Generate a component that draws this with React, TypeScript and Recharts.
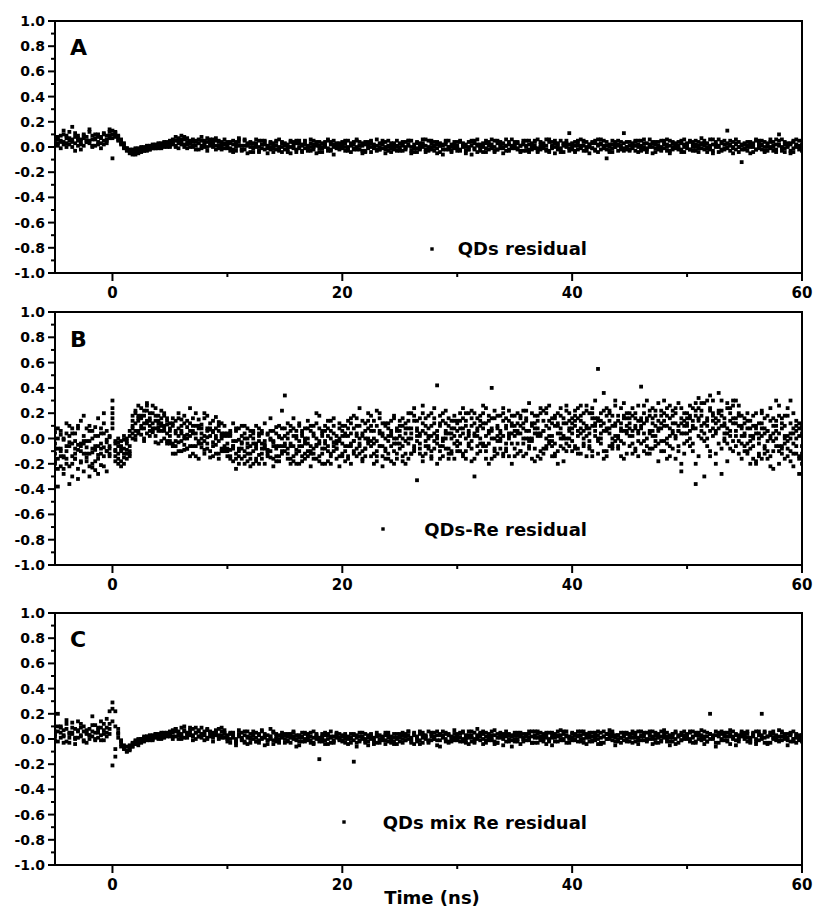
import React from "react";
import { ScatterChart, Scatter, XAxis, YAxis, ReferenceArea } from "recharts";

// time channels (ns), one per 0.25 ns
const timeNs = [
  -5, -4.75, -4.5, -4.25, -4, -3.75, -3.5, -3.25, -3, -2.75, -2.5, -2.25, -2, -1.75, -1.5, -1.25, -1, -0.75, -0.5, -0.25,
  0, 0.25, 0.5, 0.75, 1, 1.25, 1.5, 1.75, 2, 2.25, 2.5, 2.75, 3, 3.25, 3.5, 3.75, 4, 4.25, 4.5, 4.75,
  5, 5.25, 5.5, 5.75, 6, 6.25, 6.5, 6.75, 7, 7.25, 7.5, 7.75, 8, 8.25, 8.5, 8.75, 9, 9.25, 9.5, 9.75,
  10, 10.25, 10.5, 10.75, 11, 11.25, 11.5, 11.75, 12, 12.25, 12.5, 12.75, 13, 13.25, 13.5, 13.75, 14, 14.25, 14.5, 14.75,
  15, 15.25, 15.5, 15.75, 16, 16.25, 16.5, 16.75, 17, 17.25, 17.5, 17.75, 18, 18.25, 18.5, 18.75, 19, 19.25, 19.5, 19.75,
  20, 20.25, 20.5, 20.75, 21, 21.25, 21.5, 21.75, 22, 22.25, 22.5, 22.75, 23, 23.25, 23.5, 23.75, 24, 24.25, 24.5, 24.75,
  25, 25.25, 25.5, 25.75, 26, 26.25, 26.5, 26.75, 27, 27.25, 27.5, 27.75, 28, 28.25, 28.5, 28.75, 29, 29.25, 29.5, 29.75,
  30, 30.25, 30.5, 30.75, 31, 31.25, 31.5, 31.75, 32, 32.25, 32.5, 32.75, 33, 33.25, 33.5, 33.75, 34, 34.25, 34.5, 34.75,
  35, 35.25, 35.5, 35.75, 36, 36.25, 36.5, 36.75, 37, 37.25, 37.5, 37.75, 38, 38.25, 38.5, 38.75, 39, 39.25, 39.5, 39.75,
  40, 40.25, 40.5, 40.75, 41, 41.25, 41.5, 41.75, 42, 42.25, 42.5, 42.75, 43, 43.25, 43.5, 43.75, 44, 44.25, 44.5, 44.75,
  45, 45.25, 45.5, 45.75, 46, 46.25, 46.5, 46.75, 47, 47.25, 47.5, 47.75, 48, 48.25, 48.5, 48.75, 49, 49.25, 49.5, 49.75,
  50, 50.25, 50.5, 50.75, 51, 51.25, 51.5, 51.75, 52, 52.25, 52.5, 52.75, 53, 53.25, 53.5, 53.75, 54, 54.25, 54.5, 54.75,
  55, 55.25, 55.5, 55.75, 56, 56.25, 56.5, 56.75, 57, 57.25, 57.5, 57.75, 58, 58.25, 58.5, 58.75, 59, 59.25, 59.5, 59.75,
  60,
];

// QDs residuals, in units of 0.01, four sweeps
const qdsA = [
  6, 3, 9, 2, 7, 12, 4, 8, 1, 6, 10, 5, 3, 9, 7, 2, 8, 11, 6, 9,
  13, 11, 6, 4, 2, -3, -5, -3, -4, -1, -4, 0, -3, 1, -1, 2, 0, 3, 1, 4,
  3, 6, 1, 7, 4, 8, 2, 5, 0, 4, 6, -1, 3, 7, 1, 4, -2, 5, 2, 6,
  2, -3, 5, 0, 4, -2, 6, 1, -4, 3, 0, 5, -1, 2, -5, 4, 1, -2, 6, 0,
  1, -2, 4, 0, -4, 3, 1, 5, -2, 0, 2, -5, 4, -1, 1, 6, -3, 2, 0, -2,
  -1, 3, 0, -4, 2, 5, -2, 1, -3, 4, 0, -1, 6, -2, 2, -5, 1, 3, -2, 0,
  0, -3, 4, 1, -5, 2, -1, 3, 0, -4, 5, -2, 1, -1, 3, -6, 2, 0, -3, 4,
  1, -2, 3, -5, 0, 4, -1, 2, -3, 1, 5, -2, 0, -4, 3, 1, -1, 6, -3, 0,
  2, -1, -4, 3, 0, 5, -2, 1, -3, 4, 0, -2, 6, 1, -5, 2, -1, 3, 0, 11,
  0, 4, -2, 6, 1, -3, 2, -1, 5, -4, 3, 0, -9, 2, -1, 4, -3, 1, 11, 0,
  -2, 3, 1, -4, 5, 0, -1, 2, -5, 4, 1, -2, 3, 6, -3, 0, 2, -1, 5, -4,
  3, -2, 0, 5, -4, 2, 1, -1, 6, -3, 2, 0, 4, -2, 13, 1, -5, 3, 0, -12,
  2, -3, 4, 0, -2, 5, 1, -4, 3, -1, 0, 6, 10, -3, 2, 1, -5, 4, 0, -2,
  1,
];
const qdsB = [
  2, 8, 4, 13, 0, 5, 16, 3, 9, -2, 7, 4, 12, 1, 6, 10, -1, 5, 3, 12,
  -9, 8, 9, 3, -1, -1, -3, -6, -2, -5, -1, -3, 1, -2, 2, -1, 3, -1, 4, 0,
  0, 3, 5, -1, 9, 2, 4, 0, 6, -2, 3, 1, 5, -3, 4, 0, 7, 1, -2, 3,
  -1, 4, -4, 2, 7, -2, 1, -5, 3, 0, 6, -3, 2, 4, -1, 0, -4, 5, -2, 3,
  3, 0, -5, 2, 5, -1, -3, 2, 0, 6, -2, 1, -4, 3, 0, -1, 4, -6, 2, 1,
  2, -3, 5, 1, -2, 0, 4, -5, 2, -1, 3, 1, -3, 0, 5, -2, 0, -4, 3, 1,
  -2, 2, -1, 5, 0, -4, 3, -2, 6, 1, -3, 0, 4, -5, 1, 2, -2, 5, 0, -1,
  -3, 4, 0, 2, -2, -6, 5, 1, -1, 3, -4, 2, 6, 0, -2, 4, -5, 1, 2, -1,
  -1, 3, 1, -3, 5, -2, 0, 4, -4, 2, -1, 6, -3, 0, 3, -2, 5, -4, 1, 2,
  3, -3, 1, -1, 4, 0, -5, 3, -2, 2, 6, -1, 1, -4, 5, 0, 2, -2, -3, 4,
  1, -1, 4, 2, -3, 6, -2, 0, 3, -4, 0, 5, -1, 2, -5, 3, 1, 4, -2, 0,
  -1, 4, 2, -3, 1, 7, -2, 3, 0, -5, 4, 1, -3, 5, 0, 2, -1, 6, -4, 2,
  -2, 1, -5, 3, 6, -1, 2, 0, -3, 4, 1, -2, 5, 0, -4, 3, 2, -1, 6, 1,
  -3,
];
const qdsC = [
  8, 1, 5, 10, 3, 7, 0, 11, 5, 2, 9, 4, 14, 6, 1, 8, 3, 10, 5, 7,
  10, 12, 8, 2, 0, -1, -2, -5, -1, -4, 0, -3, 0, -2, 1, -1, 2, 0, 3, 1,
  5, 2, 8, 3, 6, 0, 7, 4, 1, 5, 3, 8, 0, 4, 6, 2, 5, -1, 4, 2,
  0, 3, -2, 4, 1, -3, 5, 2, 0, -1, 3, -4, 2, 5, 0, -2, 3, 1, -3, 4,
  -2, 2, 5, -1, 3, 0, -4, 4, 1, -3, 5, 2, -1, 0, 4, -3, 2, 5, -1, 3,
  4, 0, -2, 3, -1, 6, 1, -3, 4, 0, -4, 2, 1, -2, 3, 0, 5, -1, 2, -3,
  3, 1, -2, 5, -3, 0, 4, -1, 2, 6, -2, 3, 0, 4, -4, 1, 5, -2, 2, 0,
  -1, 5, 2, -3, 4, 1, -2, 6, 0, -4, 3, 1, -1, 5, -2, 2, 0, -3, 4, 1,
  4, -2, 1, 5, -3, 2, 0, -1, 6, -2, 3, 1, -4, 4, 0, 3, -2, 1, 5, -3,
  -2, 1, 5, 0, -3, 4, 2, -1, 3, 6, -2, 1, 4, -3, 2, 0, 5, -1, 3, -2,
  4, 0, -3, 5, 1, -2, 3, 6, 0, -1, 4, -3, 2, 0, 5, -2, 3, 1, -4, 2,
  0, 5, -3, 2, 4, -1, 3, 0, -2, 6, 1, -4, 3, 2, -1, 5, 0, -2, 4, 1,
  3, 0, 2, -4, 5, 1, -2, 4, 0, 6, -3, 2, 1, -1, 4, 0, 3, -4, 2, 5,
  2,
];
const qdsD = [
  3, 6, -1, 4, 9, 2, 6, -3, 7, 4, 1, 8, 5, 0, 10, 4, 7, 2, 9, 14,
  7, 9, 5, 6, 3, -2, -3, -2, -6, -2, -3, -1, -2, 0, -1, 1, -1, 2, 0, 3,
  1, 4, 0, 5, 2, 6, -1, 3, 4, 1, -2, 5, 2, 0, 3, 6, 1, 4, 0, -1,
  4, -1, 2, -3, 6, 1, -2, 3, 4, -4, 2, 0, 5, -2, 1, 3, -1, 4, 0, -4,
  2, -4, 0, 4, -2, 5, 2, -1, -3, 3, 0, 4, 1, -4, 2, 5, -2, 0, 3, -1,
  0, 5, -3, 2, 4, -2, 1, 3, -4, 2, 5, 0, -2, 3, -1, 4, -3, 1, 0, 5,
  -3, 4, 0, 2, 5, -1, -4, 1, 3, -2, 0, 5, -3, 2, 1, -2, 4, 0, -4, 2,
  4, -3, 1, 0, -2, 5, 3, -4, 2, 0, -1, 4, 2, -3, 5, -1, 3, 1, -2, 6,
  0, 4, -3, 2, 1, -4, 3, 5, -1, 0, 2, -3, 4, -1, 5, 0, -4, 2, 3, -1,
  2, -4, 3, 1, 5, -2, 0, 4, -3, 1, 2, 5, -2, 0, -4, 3, 1, 4, -1, 0,
  -3, 2, 5, 0, -1, 3, -4, 1, 4, 2, -2, 0, 5, -3, 1, 4, -1, -2, 3, 6,
  2, -2, 4, 0, -1, 3, 5, -4, 1, 2, 0, 6, -2, -1, 3, -3, 4, 2, 0, -2,
  -1, 4, 0, 2, -2, 3, 5, -3, 1, 0, 4, -4, 2, 6, -1, 2, -3, 5, 1, 0,
  0,
];

// QDs-Re residuals, six sweeps
const reA = [
  -12, -38, 3, -15, -6, 10, -20, -2, -9, 14, -4, -18, 6, -11, -25, 2, -8, 12, -3, -14,
  30, -4, -12, -2, -15, -9, -6, 4, 12, 26, 8, 18, 4, 14, 20, 2, 9, 16, 6, 11,
  8, -6, 14, 2, -10, 18, 0, 6, -12, 10, -4, 4, 16, -8, 2, -14, 8, -2, 12, -6,
  -10, 4, -18, -2, -8, 10, -14, -4, 6, -20, -6, 2, -12, 12, -9, -1, -16, 4, -6, 8,
  34, -8, 6, -14, 0, 10, -18, -4, 14, -10, 2, -6, 18, -12, -2, 8, -20, 4, -8, 12,
  -4, 10, -14, 4, 18, -8, 0, -18, 12, -2, 6, -12, 22, -6, 2, -16, 8, 14, -10, 0,
  2, -14, 12, -4, 20, -8, 6, 16, -18, 4, -6, 10, -2, 42, -10, 14, 0, -16, 8, -4,
  6, -10, 16, 0, -4, 22, -30, 8, 14, -6, 2, 18, 40, -14, 10, -2, 24, -8, 4, 12,
  -8, 12, 4, 22, -12, 6, -2, 18, 8, -16, 14, 0, 26, -6, 10, -20, 4, 16, -4, 20,
  16, -6, 24, 4, 12, -14, 8, 20, 2, 55, 14, -10, 6, 22, -4, 10, 18, -2, 28, 6,
  12, -4, 20, 6, 41, -10, 14, 4, 24, -6, 8, 18, -2, 10, -14, 22, 2, 28, -20, 14,
  10, 26, -4, 18, 32, 6, -30, 14, 22, 2, 12, 36, -8, 16, 4, 24, -2, 30, 10, -16,
  4, -12, 14, -6, 20, 0, -16, 8, -2, 24, -10, 6, -20, 12, 2, -8, 30, -4, 10, -14,
  10,
];
const reB = [
  5, -8, -22, -1, -16, -36, 8, -12, -5, -19, 18, -7, -2, -23, 9, -13, -4, 20, -10, 1,
  24, -14, -3, -18, -8, 0, -12, 14, 22, 6, 18, 0, 28, 10, 5, 24, 12, -2, 18, 4,
  -4, 12, -2, 20, 6, -9, 3, -14, 10, 0, 15, -7, -2, 8, -15, 5, -5, 13, -10, 2,
  2, -14, -6, -24, 8, -3, -10, 0, -16, 4, -8, -20, 6, -5, -12, 16, -3, -18, 1, -10,
  -6, 4, -16, 16, -9, -2, 6, -12, 0, -22, 10, -5, -14, 2, 6, -10, 14, -3, -16, 0,
  6, -10, 2, -20, 8, 16, -4, 4, -8, 20, -14, 0, 10, -6, -22, 12, -2, 4, 18, -12,
  -8, 16, -2, 8, -12, 24, -33, 2, 12, -6, 18, -14, 4, -20, 10, -2, 22, -8, 0, 14,
  -2, 20, -12, 10, 4, -18, 12, -6, 0, 26, -10, 6, -16, 16, 2, -8, 20, -4, 14, -20,
  10, -4, 18, -14, 6, 28, 0, -8, 14, 2, -12, 20, 8, -2, 16, -10, 24, 0, 12, -6,
  -2, 14, 6, -12, 20, 8, -6, 16, 30, 0, 10, -16, 18, 4, -8, 26, 2, 12, -4, 16,
  2, 18, -8, 26, 10, -2, 16, -12, 6, 22, -4, 12, 30, 0, 16, -8, 20, 6, -26, 10,
  20, 0, 14, -36, 24, 10, 4, 30, -10, 18, 6, 22, -28, 12, 28, 2, 16, -6, 20, 8,
  -10, 8, -2, 18, -18, 4, 12, -8, 6, -22, 16, 0, 26, -6, 10, -14, 4, 20, -12, 2,
  -20,
];
const reC = [
  -20, 8, -10, -28, 12, -3, -14, 4, -24, -6, 2, -15, -30, 0, -9, 16, -21, -7, 6, -12,
  20, -9, -20, -6, -1, -16, 2, 8, -1, 16, 3, 12, 22, 16, 8, -3, 14, 6, 10, -4,
  2, -12, 6, -3, 15, -5, 9, 24, -6, 4, -16, 11, -9, 1, 7, -3, 17, -12, 0, -8,
  -4, -9, 12, -12, -1, -16, 4, -7, -22, 0, 10, -13, -4, -8, 3, -15, -6, 9, -14, 22,
  8, -12, -4, 2, -20, 12, -6, 0, -10, 6, -16, 20, -2, 4, -8, -18, 0, 10, -4, -14,
  -12, 2, 14, -6, -2, -14, 24, -10, 6, -4, 10, -20, -2, 16, 4, -8, -16, 2, -4, 8,
  10, 0, -20, 14, 4, -10, 8, -4, 26, -12, 2, 20, -8, 6, -16, 0, 12, 4, -12, 18,
  14, 2, 8, -16, 20, -2, 4, 16, -10, 8, 24, -4, 6, 0, -12, 18, 2, 10, -14, 4,
  2, 20, -10, 8, 16, -2, 12, -18, 4, 24, 6, -6, 14, 2, -14, 10, 18, -8, 0, 8,
  8, 22, -8, 14, 0, 26, -2, 10, 16, -12, 4, 36, 8, 20, -6, 12, 0, -14, 16, 4,
  20, 6, 10, -14, 16, 4, -6, 22, 12, -2, 28, 8, -10, 18, 2, 12, -16, 6, 24, -4,
  -2, 16, 8, 22, -14, 28, 12, 0, 34, 14, -20, 8, 18, 4, -4, 14, 26, 6, -12, 18,
  12, -4, -20, 2, 8, -14, 22, 4, -10, 14, -2, 30, -6, 8, -16, 18, 0, -12, 6, -28,
  4,
];
const reD = [
  -4, -16, 6, -24, -10, 2, -30, -8, 8, -18, -2, -12, 10, -20, -6, -28, 4, -14, -1, -8,
  12, -18, 0, -10, -20, -4, 6, 18, 2, 14, 24, -2, 12, 20, 6, 14, -4, 22, 8, 16,
  -2, 10, -12, 16, 4, 0, -8, 12, 6, -14, 8, -4, 2, 18, -10, 6, 0, -16, 4, 10,
  -8, 6, -2, -16, -10, 2, -20, 8, -12, -4, -18, 4, -8, -2, -14, 6, -22, -6, 2, -12,
  2, -16, -6, 8, -12, -20, 4, -2, -14, 10, -8, 0, -18, 6, -4, 14, -12, -6, 2, -22,
  10, -6, -16, 12, -2, 4, -12, 14, -8, 0, 18, -4, -14, 6, 12, -10, 2, -18, 16, -4,
  14, -6, 4, -16, 8, 18, -2, -12, 6, 16, -8, 2, 24, -4, 12, -14, 6, 16, -10, 2,
  -10, 14, 4, 20, -6, 10, -16, 2, 18, -4, 12, -20, 8, 22, -2, 6, -12, 16, 0, 10,
  18, 4, -10, 12, 0, -6, 20, 8, -14, 4, 22, -8, 2, 16, -4, 12, 0, -18, 26, 6,
  4, 10, -12, 18, 6, 2, -8, 24, 12, -2, 20, 6, -10, 14, 0, 30, -6, 8, 18, -12,
  -6, 24, 8, -2, 14, 20, -12, 6, 16, 2, -18, 22, 10, -4, 26, 6, 12, -10, 16, 4,
  12, -6, 24, 8, 16, 0, 28, 10, -14, 20, 4, 14, 30, -2, 8, 20, -10, 16, 26, 2,
  -6, 14, 2, -16, 10, -4, 20, -12, 6, 0, -24, 14, 4, -8, 18, -2, -18, 8, -6, 12,
  -6,
];
const reE = [
  -18, 0, -8, -14, 4, -22, -4, -16, 10, -10, -26, -2, -12, 6, -18, -6, 8, -22, -10, 2,
  16, -2, -16, -8, 2, -12, -10, 10, 20, 4, 16, 8, 26, 2, 12, 18, 6, 10, 20, -2,
  12, -4, 4, -10, 10, 2, 14, -6, 4, 20, -2, 8, -12, 6, 12, -6, 2, 10, -8, 4,
  4, -16, -6, 6, -14, -8, 0, -18, 2, -10, -4, 8, -16, -6, 4, -10, -2, -14, 10, -6,
  -10, 0, 10, -18, 2, -6, -14, 8, -4, -12, 4, -16, 8, -8, -20, 2, 6, -10, -2, 8,
  -14, 4, -6, 16, -10, 2, 10, -16, 0, 14, -6, 6, -10, 20, -14, 0, 12, -6, -20, 6,
  -4, 10, -12, 20, 0, -6, 14, 4, -14, 10, 0, -10, 16, 2, -6, 20, -8, 10, 4, -16,
  12, -4, 24, -10, 6, 16, 2, -12, 10, 20, -6, 14, 0, -10, 18, 4, -14, 8, 22, -4,
  -14, 6, 16, 0, 22, -8, 10, 4, 18, -10, 6, 24, -4, 12, -12, 20, 8, 2, -10, 14,
  12, -8, 16, 26, -4, 10, 20, -10, 6, 14, 0, 22, -14, 8, 18, 2, -8, 24, 6, 10,
  16, 2, -10, 14, 8, 26, 0, 18, -8, 10, 14, -2, 20, -16, 8, 4, 24, -6, 12, 20,
  4, 18, 10, -20, 14, 22, -2, 16, 6, 30, -12, 20, 10, 0, 24, -8, 12, 2, 18, -4,
  16, -10, 8, 0, -20, 12, 2, -6, 18, -14, 4, 10, -10, 16, -4, 2, 12, -22, 0, 8,
  -12,
];
const reF = [
  -8, -24, -14, 0, -20, -6, 4, -16, -32, -4, -12, 8, -22, -8, 2, -16, -12, 4, -26, -6,
  8, -10, -6, -22, -12, -2, -14, 0, 6, 18, 10, 22, 14, 6, 26, 8, 18, 12, 0, 14,
  6, 16, -6, 8, -2, 12, -8, 2, 16, -6, 10, 0, 20, -4, 8, 14, -12, 6, 2, -10,
  -14, 2, -8, 8, -20, -4, 10, -12, -6, 6, -16, -2, 4, -20, -10, 0, 6, -8, -18, 0,
  -4, 12, -20, -6, 6, -10, 2, -16, 8, -6, -12, 12, -4, -20, 10, -6, -14, 16, -8, -2,
  2, -18, 8, -4, -12, 10, -6, 2, -14, 8, -2, 14, -18, 4, -6, 10, -12, 6, 0, -16,
  6, -18, 8, 0, -12, 14, 2, -8, 20, -2, 8, -16, 12, 0, 18, -6, 4, -12, 14, 8,
  -6, 8, -14, 14, 2, -8, 20, 6, -4, 12, -16, 4, 16, -8, 8, 0, 14, -10, 2, 18,
  6, -12, 10, -4, 14, 0, -16, 12, 2, 20, -8, 10, -2, -14, 18, 4, -6, 12, 22, 0,
  -10, 18, 2, 8, -6, 22, 4, -14, 10, 16, -4, 12, 24, -6, 10, -2, 14, 6, -16, 20,
  8, -12, 16, 4, -4, 12, 30, -8, 2, 18, 6, -10, 14, 24, -6, 18, 0, 10, 4, -12,
  16, 6, -10, 28, 2, 18, 12, -6, 24, 8, 16, -4, 22, 10, -18, 6, 30, 12, -2, 10,
  2, 20, -8, 10, 4, -12, 8, 16, -16, 2, 10, -6, 18, -12, 0, 24, -10, 4, 14, -16,
  8,
];

// QDs mix Re residuals, four sweeps
const mixA = [
  4, 20, 1, 7, -2, 5, 9, 0, 14, 3, 6, -3, 8, 2, 11, 5, -1, 7, 16, 4,
  29, 22, 4, -4, -8, -9, -6, -4, -1, -3, 0, 1, -1, 3, 0, 4, 1, 3, 2, 5,
  3, 7, 2, 6, 9, 1, 5, 3, 8, 0, 6, 4, -1, 7, 2, 5, 3, 8, 1, 4,
  2, -3, 5, 0, 7, -1, 3, -4, 1, 6, -2, 4, 0, -5, 3, 8, -1, 2, -3, 5,
  0, 4, -3, 2, -6, 1, 5, -2, 3, -1, 6, 0, -16, 2, -4, 4, 1, -3, 5, -1,
  -1, 2, -4, 1, -18, 3, -2, 0, 4, -5, 1, -1, 3, -3, 0, 5, -2, 2, -4, 1,
  1, -3, 4, 0, -2, 5, 2, -4, 3, 0, 6, -1, 2, -5, 4, 1, -2, 3, 0, 7,
  2, -2, 5, 1, -4, 3, 0, 8, -1, 4, -3, 2, 6, -2, 1, 3, -5, 4, 0, 2,
  3, 0, -4, 4, 2, -1, 6, -3, 1, 5, -2, 3, 0, -5, 4, 2, 7, -1, 3, 0,
  1, 4, -2, 3, 0, -4, 5, 2, -1, 6, 1, -3, 4, 0, 2, -5, 3, 1, 5, -2,
  2, -3, 5, 1, -1, 4, 0, 6, -4, 3, 1, -2, 5, 2, -5, 4, 0, 3, -1, 6,
  3, 0, 6, -2, 4, 1, -4, 5, 20, 0, 3, -3, 6, 2, -1, 4, 1, -5, 3, 2,
  0, 4, -3, 2, 6, -1, 20, 1, -4, 5, 0, 3, -2, 6, 2, -1, 4, 0, -3, 2,
  2,
];
const mixB = [
  -1, 6, 10, 2, 15, -3, 4, 8, 1, 12, -2, 5, 3, 18, 0, 7, 9, -1, 5, 22,
  -21, -14, 8, -1, -6, -10, -8, -6, -4, 0, -2, -1, 2, 0, 3, 1, 4, 0, 5, 2,
  6, 0, 8, 4, 2, 10, 3, 7, -1, 5, 2, 9, 4, 1, 6, -2, 5, 0, 3, 7,
  -2, 4, 1, -5, 3, 0, 6, 2, -3, 4, 1, -1, 7, 2, -4, 0, 5, -2, 3, 1,
  3, -2, 1, 6, -1, -5, 2, 0, 4, -3, 1, 3, -2, 0, 5, -4, 2, -1, 3, 0,
  2, -3, 0, 4, -1, -6, 2, 1, -3, 3, 0, -2, 5, -1, 1, -4, 3, 0, -2, 4,
  -2, 3, -1, 6, 1, -4, 0, 4, -3, 2, -1, 5, 0, 3, -6, 2, 4, -2, 1, -1,
  -1, 4, 0, -3, 6, 1, -2, 3, 5, -4, 2, 0, -1, 7, -3, 2, 4, -2, 3, -6,
  0, 5, 2, -2, 3, 6, -3, 1, 4, -1, 2, -4, 5, 1, -2, 3, 0, 6, -3, 2,
  4, -1, 2, 6, -3, 1, 3, -2, 5, 0, -4, 2, 4, 7, -1, 3, 0, -3, 2, 5,
  -2, 4, 1, -4, 6, 2, -1, 3, 0, 5, -3, 2, 7, -2, 1, 4, -4, 2, 5, 0,
  1, 5, -3, 3, 0, 7, 2, -2, 4, 1, -6, 3, 0, 5, -2, 2, 6, -1, 1, 4,
  4, -2, 1, 5, -4, 3, 0, 6, 2, -3, 4, 1, -1, 5, 2, -5, 3, 0, 4, -1,
  -2,
];
const mixC = [
  6, -2, 9, 3, 12, 1, 5, -4, 7, 2, 10, 4, 0, 6, -1, 9, 3, 12, 2, 8,
  14, -8, 1, -6, -7, -6, -9, -3, -4, -1, -3, 2, 0, -1, 2, 3, 0, 5, 1, 3,
  5, 2, 6, 0, 4, 7, 1, 5, 3, 9, 2, 4, 6, 0, 5, 3, 7, 2, 6, 1,
  3, 0, 4, -2, 2, 5, -3, 1, 4, 0, -2, 3, 6, 1, -1, 2, -4, 4, 0, 2,
  -3, 2, 4, 0, 3, -2, 1, 5, -1, 2, -4, 4, 1, -2, 3, 0, -3, 2, 4, 1,
  3, 0, 2, -3, 4, 1, -1, 5, -2, 1, 3, -4, 2, 0, -1, 3, 1, -3, 4, 0,
  4, 0, 2, 6, -3, 3, 1, -1, 5, 2, -2, 4, 0, 6, -1, 3, 5, -3, 2, 4,
  0, 5, -2, 3, 1, 6, -3, 2, 4, 0, 5, -1, 3, -4, 4, 1, 2, 6, -2, 3,
  5, -2, 3, 1, -1, 4, 2, 6, -3, 0, 4, 1, -1, 5, 2, -2, 3, 0, 6, 1,
  -1, 3, 6, 0, 4, 2, -2, 5, 1, 3, -3, 6, 0, 2, 4, 1, -2, 5, 3, 0,
  4, 1, -2, 6, 3, -1, 5, 0, 2, -3, 4, 6, 1, 0, 3, -2, 5, 2, -1, 3,
  0, 6, 2, -3, 5, 3, 0, -2, 4, 1, 6, 2, -1, 3, 5, -4, 2, 4, 0, 6,
  5, 1, -2, 4, 0, 6, 3, -3, 2, 5, 1, -1, 7, 2, 0, 4, -2, 6, 1, 3,
  1,
];
const mixD = [
  2, 10, 5, -3, 8, 4, 13, 1, 6, 9, -1, 7, 3, 11, 5, 1, 14, 4, 9, 12,
  24, 10, 5, -2, -5, -10, -5, -6, -2, -5, 0, -2, 2, 1, -1, 4, 2, 1, 4, 3,
  2, 5, 8, 3, 0, 6, 4, 9, 2, 5, 7, 1, 3, 8, 4, 1, 6, 3, 9, 5,
  0, 5, 2, -3, 4, 1, -2, 6, 0, 3, 5, -3, 1, 4, -1, 2, 6, 0, -2, 3,
  4, -1, 2, 5, 0, 3, -2, 4, 1, 5, -3, 2, 0, 4, -1, 3, 6, -2, 1, 4,
  -2, 4, 1, 0, 3, -3, 5, 2, 0, -2, 4, 1, -3, 3, 2, -1, 5, -2, 1, -4,
  2, 5, -1, 3, 0, 4, -2, 6, 1, 3, -3, 2, 5, -1, 3, 6, 0, 4, -2, 1,
  4, 1, 6, -1, 3, -2, 5, 0, 2, 6, -1, 4, 1, 3, -3, 5, 0, 2, 4, -1,
  -2, 3, 5, 0, 4, 1, -3, 3, 6, 2, 0, 5, -2, 3, 1, 6, -1, 4, 2, -3,
  5, 0, 3, -2, 6, 4, 1, -1, 3, -4, 5, 2, 0, 4, 6, -2, 3, 1, -1, 4,
  1, 6, 3, -1, 2, 5, -2, 4, 6, 0, 2, -1, 3, 5, -2, 1, 6, -3, 3, 2,
  4, -2, 1, 5, 3, -1, 6, 2, 0, 3, -3, 5, 4, -1, 2, 7, 0, 3, -2, 5,
  2, 6, 0, 3, -2, 4, 1, 5, -3, 3, 6, 0, 2, -1, 4, 1, 5, -2, 3, 0,
  3,
];

const xTicks = [0, 10, 20, 30, 40, 50, 60];
const yTicks = [-1, -0.9, -0.8, -0.7, -0.6, -0.5, -0.4, -0.3, -0.2, -0.1, 0, 0.1, 0.2, 0.3, 0.4, 0.5, 0.6, 0.7, 0.8, 0.9, 1];
const panelLetters = ["A", "B", "C"];
const legendNames = ["QDs residual", "QDs-Re residual", "QDs mix Re residual"];

const FONT = "'DejaVu Sans', 'Liberation Sans', Arial, sans-serif";

const toPoints = (...sweeps: number[][]) =>
  sweeps.flatMap((s) => s.map((v, i) => ({ t: timeNs[i], r: v / 100 })));

const panelData = [
  toPoints(qdsA, qdsB, qdsC, qdsD),
  toPoints(reA, reB, reC, reD, reE, reF),
  toPoints(mixA, mixB, mixC, mixD),
];

const dot = (p: any) => <rect x={p.cx - 1.9} y={p.cy - 1.9} width={3.8} height={3.8} fill="#000" />;

const XTick = (props: any) => {
  const { x, y, payload } = props;
  const v: number = payload.value;
  const major = v % 20 === 0;
  const axisY = y - 10;
  return (
    <g>
      <line x1={x} x2={x} y1={axisY} y2={axisY + (major ? 8 : 4)} stroke="#000" strokeWidth={2} />
      {major && (
        <text x={x} y={axisY + 25} textAnchor="middle" fontFamily={FONT} fontWeight="bold" fontSize={15} fill="#000">
          {v}
        </text>
      )}
    </g>
  );
};

const YTick = (props: any) => {
  const { x, y, payload } = props;
  const v: number = payload.value;
  const major = Math.round(v * 10) % 2 === 0;
  const axisX = x + 10;
  return (
    <g>
      <line x1={axisX - (major ? 7 : 4)} x2={axisX} y1={y} y2={y} stroke="#000" strokeWidth={2} />
      {major && (
        <text x={x} y={y} dy="0.36em" textAnchor="end" fontFamily={FONT} fontWeight="bold" fontSize={14} fill="#000">
          {v.toFixed(1)}
        </text>
      )}
    </g>
  );
};

const axisLine = { stroke: "#000", strokeWidth: 2 };

function Panel({ top, height, index }: { top: number; height: number; index: number }) {
  return (
    <div style={{ position: "absolute", left: 0, top }}>
      <ScatterChart width={817} height={height} margin={{ top: 21, right: 15, bottom: 0, left: 0 }}>
        <XAxis
          type="number"
          dataKey="t"
          domain={[-5, 60]}
          ticks={xTicks}
          interval={0}
          allowDataOverflow
          tick={(p: any) => <XTick {...p} />}
          tickLine={false}
          tickSize={0}
          tickMargin={10}
          height={40}
          axisLine={axisLine}
        />
        <YAxis
          type="number"
          dataKey="r"
          domain={[-1, 1]}
          ticks={yTicks}
          interval={0}
          allowDataOverflow
          tick={(p: any) => <YTick {...p} />}
          tickLine={false}
          tickSize={0}
          tickMargin={10}
          width={55}
          axisLine={axisLine}
        />
        <ReferenceArea x1={-5} x2={60} y1={-1} y2={1} fill="none" stroke="#000" strokeWidth={2} />
        <Scatter name={legendNames[index]} data={panelData[index]} shape={dot} isAnimationActive={false} />
      </ScatterChart>
    </div>
  );
}

const panels = [
  { top: 0, height: 313, letterY: 55, legendY: 255, markerX: 432, markerY: 249 },
  { top: 291, height: 314, letterY: 347, legendY: 536, markerX: 383, markerY: 529 },
  { top: 592, height: 313, letterY: 647, legendY: 829, markerX: 344, markerY: 822 },
];

export default function App() {
  return (
    <div style={{ position: "fixed", left: 0, top: 0, width: 817, height: 913, background: "#fff", overflow: "hidden" }}>
      {panels.map((p, i) => (
        <Panel key={i} top={p.top} height={p.height} index={i} />
      ))}
      <svg width={817} height={913} style={{ position: "absolute", left: 0, top: 0, pointerEvents: "none" }}>
        {panels.map((p, i) => (
          <g key={i} fontFamily={FONT} fontWeight="bold" fill="#000">
            <text x={70} y={p.letterY} fontSize={22}>
              {panelLetters[i]}
            </text>
            <rect x={p.markerX - 1.7} y={p.markerY - 1.7} width={3.4} height={3.4} />
            <text x={587} y={p.legendY} fontSize={18} textAnchor="end">
              {legendNames[i]}
            </text>
          </g>
        ))}
        <text x={432} y={904} fontFamily={FONT} fontWeight="bold" fontSize={18} textAnchor="middle" fill="#000">
          Time (ns)
        </text>
      </svg>
    </div>
  );
}
